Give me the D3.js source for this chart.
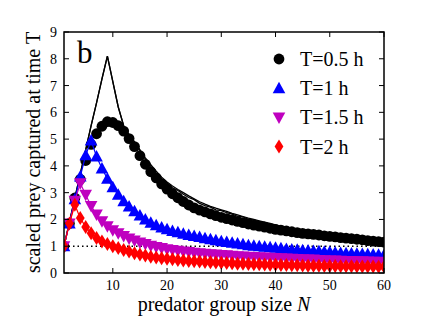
<!DOCTYPE html>
<html>
<head>
<meta charset="utf-8">
<script src="https://cdn.jsdelivr.net/npm/d3@7"></script>
<style>
  html, body { margin: 0; padding: 0; background: #fff; }
  text { font-family: 'Liberation Serif'; }
</style>
</head>
<body>
<div id="chart"></div>
<script>
// group sizes N = 1..60
const groupSizes = [
  1, 2, 3, 4, 5, 6, 7, 8, 9, 10, 11, 12, 13, 14, 15, 16, 17, 18, 19, 20,
  21, 22, 23, 24, 25, 26, 27, 28, 29, 30, 31, 32, 33, 34, 35, 36, 37, 38, 39, 40,
  41, 42, 43, 44, 45, 46, 47, 48, 49, 50, 51, 52, 53, 54, 55, 56, 57, 58, 59, 60
];

// scaled prey captured, one value per group size
const prey05 = [
  1.0, 1.85, 2.8, 3.5, 4.2, 4.8, 5.2, 5.48, 5.65, 5.62, 5.5, 5.3, 5.02, 4.72, 4.38, 4.06, 3.78, 3.55, 3.33, 3.13,
  2.96, 2.81, 2.67, 2.54, 2.43, 2.35, 2.28, 2.21, 2.14, 2.08, 2.03, 1.98, 1.93, 1.88, 1.83, 1.79, 1.75, 1.71, 1.67, 1.63,
  1.6, 1.57, 1.54, 1.51, 1.48, 1.46, 1.44, 1.42, 1.39, 1.37, 1.35, 1.32, 1.3, 1.28, 1.26, 1.24, 1.21, 1.19, 1.17, 1.15
];
const prey1 = [
  1.0, 1.85, 2.75, 3.6, 4.4, 4.95, 4.35, 3.9, 3.52, 3.2, 2.92, 2.68, 2.48, 2.31, 2.15, 2.0, 1.88, 1.78, 1.7, 1.63,
  1.57, 1.52, 1.47, 1.42, 1.38, 1.34, 1.3, 1.26, 1.22, 1.19, 1.16, 1.13, 1.1, 1.07, 1.04, 1.02, 1.0, 0.98, 0.96, 0.94,
  0.92, 0.9, 0.88, 0.87, 0.85, 0.84, 0.82, 0.81, 0.79, 0.78, 0.77, 0.75, 0.74, 0.73, 0.72, 0.71, 0.7, 0.69, 0.68, 0.67
];
const prey15 = [
  1.0, 1.85, 2.7, 3.35, 2.92, 2.5, 2.18, 1.93, 1.75, 1.6, 1.48, 1.38, 1.29, 1.21, 1.14, 1.08, 1.02, 0.97, 0.93, 0.89,
  0.86, 0.83, 0.8, 0.78, 0.76, 0.74, 0.72, 0.7, 0.69, 0.67, 0.66, 0.64, 0.63, 0.62, 0.61, 0.6, 0.59, 0.58, 0.57, 0.56,
  0.55, 0.54, 0.53, 0.52, 0.51, 0.5, 0.5, 0.49, 0.48, 0.47, 0.47, 0.46, 0.45, 0.45, 0.44, 0.44, 0.43, 0.42, 0.42, 0.41
];
const prey2 = [
  1.0, 1.85, 2.55, 2.05, 1.72, 1.48, 1.31, 1.18, 1.08, 1.0, 0.93, 0.86, 0.8, 0.74, 0.69, 0.65, 0.61, 0.58, 0.55, 0.53,
  0.51, 0.49, 0.47, 0.45, 0.44, 0.43, 0.41, 0.4, 0.39, 0.38, 0.37, 0.36, 0.35, 0.345, 0.34, 0.33, 0.325, 0.32, 0.31, 0.305,
  0.3, 0.295, 0.29, 0.285, 0.28, 0.275, 0.27, 0.268, 0.265, 0.262, 0.258, 0.255, 0.252, 0.25, 0.247, 0.245, 0.242, 0.24, 0.237, 0.235
];

// black curves for T=0.5 h
const curveA = [
  1.0, 1.9, 2.8, 3.7, 4.6, 5.5, 6.35, 7.25, 8.1, 7.15, 6.2, 5.5, 5.15, 4.9, 4.6, 4.3, 4.05, 3.8, 3.58, 3.4,
  3.25, 3.12, 3.0, 2.88, 2.77, 2.66, 2.57, 2.49, 2.42, 2.36, 2.3, 2.23, 2.17, 2.11, 2.05, 2.0, 1.95, 1.9, 1.85, 1.8,
  1.75, 1.71, 1.67, 1.63, 1.6, 1.56, 1.53, 1.5, 1.47, 1.44, 1.41, 1.38, 1.36, 1.34, 1.31, 1.29, 1.27, 1.25, 1.23, 1.21
];
const curveB = [
  1.0, 1.9, 2.8, 3.7, 4.6, 5.5, 6.35, 7.25, 8.1, 7.15, 6.2, 5.5, 5.15, 4.9, 4.58, 4.25, 3.98, 3.72, 3.52, 3.36,
  3.18, 3.08, 2.94, 2.82, 2.74, 2.6, 2.52, 2.46, 2.36, 2.33, 2.25, 2.2, 2.12, 2.1, 2.0, 1.98, 1.91, 1.89, 1.81, 1.79,
  1.71, 1.7, 1.63, 1.62, 1.56, 1.55, 1.49, 1.49, 1.43, 1.43, 1.37, 1.38, 1.33, 1.33, 1.28, 1.29, 1.24, 1.25, 1.2, 1.21
];

const xTicks = [10, 20, 30, 40, 50, 60];
const yTicks = [0, 1, 2, 3, 4, 5, 6, 7, 8, 9];
const seriesNames = ["T=0.5 h", "T=1 h", "T=1.5 h", "T=2 h"];
const seriesColors = ["#000000", "#0000ff", "#bf00bf", "#ff0000"];
const seriesShapes = ["circle", "up", "down", "diamond"];

const width = 427;
const height = 321;
const margin = { top: 32, right: 43, bottom: 48, left: 64 };
const serif = "'Liberation Serif'";

var svg = d3
  .select("#chart")
  .append("svg")
  .attr("width", width)
  .attr("height", height)
  .style("display", "block");

const x = d3.scaleLinear().domain([1, 60]).range([margin.left, width - margin.right]);
const y = d3.scaleLinear().domain([0, 9]).range([height - margin.bottom, margin.top]);

// clip data to the axes box, like matplotlib does
svg
  .append("clipPath")
  .attr("id", "plotclip")
  .append("rect")
  .attr("x", margin.left)
  .attr("y", margin.top)
  .attr("width", width - margin.left - margin.right)
  .attr("height", height - margin.top - margin.bottom);

const dataG = svg.append("g").attr("clip-path", "url(#plotclip)");

// marker paths
function shapePath(shape) {
  if (shape === "circle") return d3.symbol(d3.symbolCircle, Math.PI * 5.4 * 5.4)();
  if (shape === "up") return "M0,-6.5L6.3,5L-6.3,5Z";
  if (shape === "down") return "M0,6.5L6.3,-5L-6.3,-5Z";
  return "M0,-7L4.4,0L0,7L-4.4,0Z";
}

// dotted reference at 1
dataG
  .append("line")
  .attr("x1", x(1))
  .attr("x2", x(60))
  .attr("y1", y(1))
  .attr("y2", y(1))
  .attr("stroke", "#000")
  .attr("stroke-width", 1.5)
  .attr("stroke-dasharray", "1.5,3");

const line = d3
  .line()
  .x((d) => x(d[0]))
  .y((d) => y(d[1]));

const allSeries = [prey05, prey1, prey15, prey2];

allSeries.forEach((values, i) => {
  const pts = groupSizes.map((n, j) => [n, values[j]]);

  if (i > 0) {
    dataG
      .append("path")
      .attr("d", line(pts))
      .attr("fill", "none")
      .attr("stroke", seriesColors[i])
      .attr("stroke-width", 1.2);
  }

  dataG
    .append("g")
    .selectAll("path")
    .data(pts)
    .enter()
    .append("path")
    .attr("transform", (d) => `translate(${x(d[0])},${y(d[1])})`)
    .attr("d", shapePath(seriesShapes[i]))
    .attr("fill", seriesColors[i]);

  if (i === 0) {
    [curveA, curveB].forEach((c) => {
      dataG
        .append("path")
        .attr("d", line(groupSizes.map((n, j) => [n, c[j]])))
        .attr("fill", "none")
        .attr("stroke", "#000")
        .attr("stroke-width", 1.3);
    });
  }
});

// frame + inward ticks on all sides
const plot = svg.append("g").attr("fill", "none").attr("stroke", "#000");
plot
  .append("rect")
  .attr("x", margin.left)
  .attr("y", margin.top)
  .attr("width", width - margin.left - margin.right)
  .attr("height", height - margin.top - margin.bottom)
  .attr("stroke-width", 1.5);

const tickLen = 5;
xTicks.forEach((t) => {
  plot.append("line").attr("x1", x(t)).attr("x2", x(t)).attr("y1", y(0)).attr("y2", y(0) - tickLen);
  plot.append("line").attr("x1", x(t)).attr("x2", x(t)).attr("y1", y(9)).attr("y2", y(9) + tickLen);
});
yTicks.forEach((t) => {
  plot.append("line").attr("x1", x(1)).attr("x2", x(1) + tickLen).attr("y1", y(t)).attr("y2", y(t));
  plot.append("line").attr("x1", x(60)).attr("x2", x(60) - tickLen).attr("y1", y(t)).attr("y2", y(t));
});

// tick labels
svg
  .append("g")
  .selectAll("text")
  .data(xTicks)
  .enter()
  .append("text")
  .attr("font-family", serif)
  .attr("x", (d) => x(d))
  .attr("y", y(0) + 17)
  .attr("text-anchor", "middle")
  .attr("font-size", 14)
  .text((d) => d);

svg
  .append("g")
  .selectAll("text")
  .data(yTicks)
  .enter()
  .append("text")
  .attr("font-family", serif)
  .attr("x", x(1) - 7)
  .attr("y", (d) => y(d) + 5)
  .attr("text-anchor", "end")
  .attr("font-size", 14)
  .text((d) => d);

// axis titles
const xTitle = svg
  .append("text")
  .attr("font-family", serif)
  .attr("x", (x(1) + x(60)) / 2)
  .attr("y", 311)
  .attr("text-anchor", "middle")
  .attr("font-size", 20);
xTitle.append("tspan").text("predator group size ");
xTitle.append("tspan").attr("font-style", "italic").text("N");

svg
  .append("text")
  .attr("font-family", serif)
  .attr("transform", `translate(40,${(y(0) + y(9)) / 2}) rotate(-90)`)
  .attr("text-anchor", "middle")
  .attr("font-size", 20)
  .text("scaled prey captured at time T");

// panel letter
svg.append("text").attr("font-family", serif).attr("x", 77).attr("y", 63).attr("font-size", 31).text("b");

// legend
const legend = svg
  .append("g")
  .selectAll("g")
  .data(seriesNames)
  .enter()
  .append("g")
  .attr("transform", (_, i) => `translate(279,${59 + i * 29.2})`);

legend
  .append("path")
  .attr("d", (_, i) => shapePath(seriesShapes[i]))
  .attr("fill", (_, i) => seriesColors[i]);

legend
  .append("text")
  .attr("font-family", serif)
  .attr("x", 21)
  .attr("y", 7)
  .attr("font-size", 20)
  .text((d) => d);
</script>
</body>
</html>
